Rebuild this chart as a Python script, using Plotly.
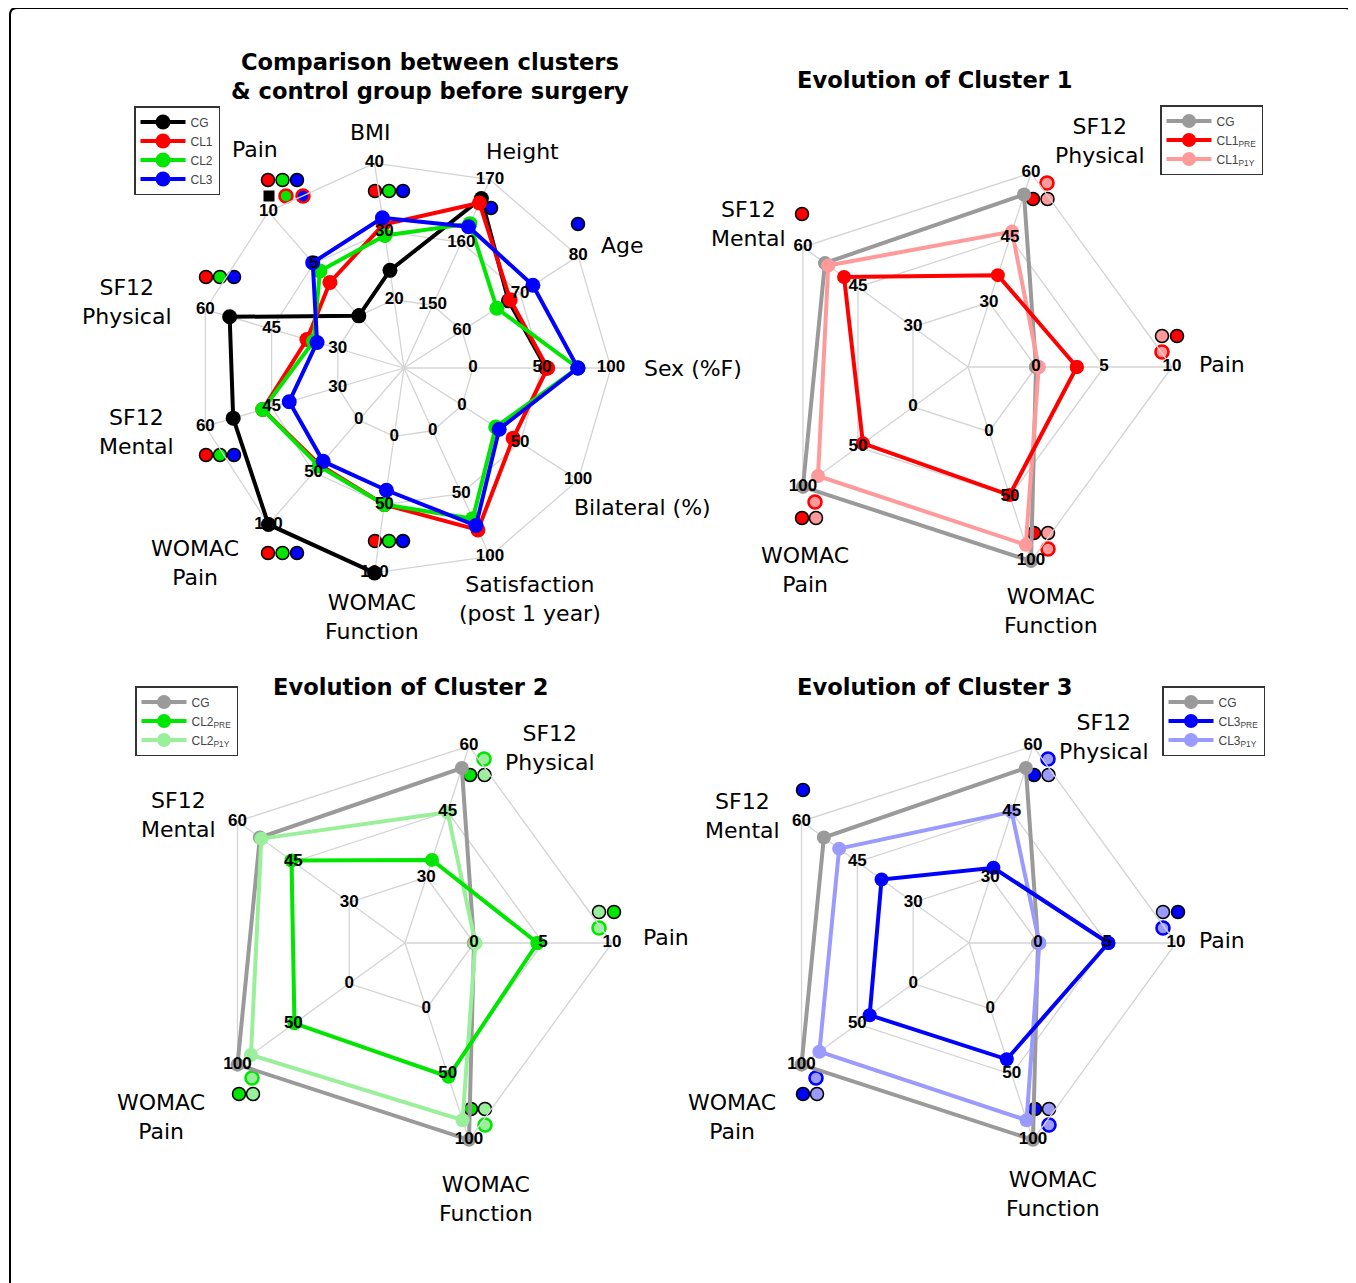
import plotly.graph_objects as go

# page body has an 8px margin: figure occupies the window from (8, 8)
OFF = 8
W, H = 1348, 1275

# ---------------- DATA ----------------
# Chart 1: comparison between clusters & control group (before surgery)
comp_axes = ["Sex (%F)", "Age", "Height", "BMI", "Pain", "SF12 Physical", "SF12 Mental",
             "WOMAC Pain", "WOMAC Function", "Satisfaction (post 1 year)", "Bilateral (%)"]
comp_axis_text = ["Sex (%F)", "Age", "Height", "BMI", "Pain", "SF12<br>Physical", "SF12<br>Mental",
                  "WOMAC<br>Pain", "WOMAC<br>Function", "Satisfaction<br>(post 1 year)", "Bilateral (%)"]
comp_ticks = [[0, 50, 100], [60, 70, 80], [150, 160, 170], [20, 30, 40], [0, 5, 10], [30, 45, 60],
              [30, 45, 60], [0, 50, 100], [0, 50, 100], [0, 50, 100], [0, 50, 100]]
comp_CG = [53, 68, 167, 24.3, 0, 54.5, 53.7, 100, 100, None, None]
comp_CL1 = [54, 68.3, 166.3, 31, 3.2, 37, 47, 43, 50, 79, 44]
comp_CL2 = [76, 66, 163, 29.4, 4.3, 35.5, 47, 44, 50, 70, 29]
comp_CL3 = [76, 72.2, 162.5, 32, 5.1, 34.7, 41, 39.5, 39.5, 75.5, 32]

# Charts 2-4: evolution of each cluster (pre-surgery vs 1 year post)
evo_axes = ["Pain", "SF12 Physical", "SF12 Mental", "WOMAC Pain", "WOMAC Function"]
evo_axis_text = ["Pain", "SF12<br>Physical", "SF12<br>Mental", "WOMAC<br>Pain", "WOMAC<br>Function"]
evo_ticks = [[0, 5, 10], [30, 45, 60], [30, 45, 60], [0, 50, 100], [0, 50, 100]]
evo_CG = [0, 55, 54, 100, 100]
CL1_pre = [3.0, 36.3, 48.8, 45.5, 49]
CL1_p1y = [0.2, 46.4, 53.1, 86.3, 87.5]
CL2_pre = [4.6, 34, 45.5, 49, 52]
CL2_p1y = [0.1, 44.9, 53.6, 88, 85]
CL3_pre = [5.1, 32.2, 38.5, 39, 38.6]
CL3_p1y = [0.1, 45, 49.9, 84, 85]

# significance glyph codes
comp_sig = [("Pain", 1, ["R", "G", "B"]), ("Pain", 2, ["K", "Gr", "Br"]), ("BMI", 1, ["R", "G", "B"]),
            ("Height", 1, ["B"]), ("Age", 1, ["B"]), ("SF12 Physical", 1, ["R", "G", "B"]),
            ("SF12 Mental", 1, ["R", "G", "B"]), ("WOMAC Pain", 1, ["R", "G", "B"]),
            ("WOMAC Function", 1, ["R", "G", "B"])]
sig_CL1 = [("SF12 Physical", 1, ["O"]), ("SF12 Physical", 2, ["P", "Y"]), ("SF12 Mental", 1, ["P"]),
           ("Pain", 1, ["Y", "P"]), ("Pain", 2, ["O"]), ("WOMAC Pain", 1, ["O"]), ("WOMAC Pain", 2, ["P", "Y"]),
           ("WOMAC Function", 1, ["P", "Y"]), ("WOMAC Function", 2, ["O"])]
sig_CL2 = [s for s in sig_CL1 if s[0] != "SF12 Mental"]
sig_CL3 = list(sig_CL1)

# ---------------- STYLE / LAYOUT ----------------
RED, GREEN, BLUE, BLACK, GRAY = "#ff0000", "#00e600", "#0000ff", "#000000", "#9a9a9a"
PINK, LGREEN, LBLUE = "#ff9a9a", "#9af09a", "#9a9aff"
GRID = "#d4d4d4"
RMAX = 3.3
LABEL_FONT = dict(family="DejaVu Sans", size=22, color="black")
TITLE_FONT = dict(family="DejaVu Sans", size=22.6, color="black")
TICK_FONT = dict(family="Liberation Sans", size=17, color="black", weight="bold")

comp_sig_pos = {("Pain", 1): (268, 180, 14.5), ("Pain", 2): (269, 196, 17), ("BMI", 1): (375, 191, 14),
                ("Height", 1): (491, 208, 0), ("Age", 1): (578, 224, 0), ("SF12 Physical", 1): (206, 277, 14),
                ("SF12 Mental", 1): (206, 455, 14), ("WOMAC Pain", 1): (268, 553, 14.5),
                ("WOMAC Function", 1): (375, 541, 14)}
evo_sig_off = {("SF12 Physical", 1): (79, -184, 0), ("SF12 Physical", 2): (65, -168, 14.5),
               ("SF12 Mental", 1): (-166, -153, 0), ("Pain", 1): (194, -31, 15), ("Pain", 2): (194, -15, 0),
               ("WOMAC Pain", 1): (-153, 135, 0), ("WOMAC Pain", 2): (-166, 151, 14),
               ("WOMAC Function", 1): (66, 166, 14), ("WOMAC Function", 2): (80, 182, 0)}

charts = [
    dict(pid="polar", center=(404, 368), d=69, axes=comp_axes, text=comp_axis_text, ticks=comp_ticks,
         legend="legend", lw=4, ms=15,
         series=[("CG", comp_CG, BLACK), ("CL1", comp_CL1, RED), ("CL2", comp_CL2, GREEN), ("CL3", comp_CL3, BLUE)],
         legend_order=[1, 2, 3, 4],
         label_pos=[(693, 368), (622, 246), (522, 152), (370, 133), (255, 150), (127, 302), (136, 432),
                    (195, 563), (372, 617), (530, 599), (642, 508)],
         title=("Comparison between clusters<br>&amp; control group before surgery", 430, 77)),
    dict(pid="polar2", center=(968, 367), d=68, axes=evo_axes, text=evo_axis_text, ticks=evo_ticks,
         legend="legend2", lw=4, ms=14, pre=RED, p1y=PINK, sig=sig_CL1,
         series=[("CG", evo_CG, GRAY), ("CL1<sub>P1Y</sub>", CL1_p1y, PINK), ("CL1<sub>PRE</sub>", CL1_pre, RED)],
         legend_order=[1, 3, 2],
         label_pos=[(1222, 364), (1100, 141), (748, 224), (805, 570), (1051, 611)],
         title=("Evolution of Cluster 1", 934, 80)),
    dict(pid="polar3", center=(405, 943), d=69, axes=evo_axes, text=evo_axis_text, ticks=evo_ticks,
         legend="legend3", lw=4, ms=14, pre=GREEN, p1y=LGREEN, sig=sig_CL2,
         series=[("CG", evo_CG, GRAY), ("CL2<sub>P1Y</sub>", CL2_p1y, LGREEN), ("CL2<sub>PRE</sub>", CL2_pre, GREEN)],
         legend_order=[1, 3, 2],
         label_pos=[(666, 937), (550, 748), (178, 815), (161, 1117), (486, 1199)],
         title=("Evolution of Cluster 2", 410, 687)),
    dict(pid="polar4", center=(969, 943), d=69, axes=evo_axes, text=evo_axis_text, ticks=evo_ticks,
         legend="legend4", lw=4, ms=14, pre=BLUE, p1y=LBLUE, sig=sig_CL3,
         series=[("CG", evo_CG, GRAY), ("CL3<sub>P1Y</sub>", CL3_p1y, LBLUE), ("CL3<sub>PRE</sub>", CL3_pre, BLUE)],
         legend_order=[1, 3, 2],
         label_pos=[(1222, 940), (1104, 737), (742, 816), (732, 1117), (1053, 1194)],
         title=("Evolution of Cluster 3", 934, 687)),
]
legend_boxes = {"legend": (134, 106), "legend2": (1160, 105), "legend3": (135, 686), "legend4": (1162, 686)}


def norm(v, ticks):
    if v is None:
        return None
    lo, hi = ticks[0], ticks[-1]
    return 1 + 2 * (v - lo) / (hi - lo)


def px(x):
    return (x - OFF) / W


def py(y):
    return 1 - (y - OFF) / H


fig = go.Figure()
annotations = []
layout_polars = {}

for ch in charts:
    pid = ch["pid"]
    N = len(ch["axes"])
    ang = [i * 360 / N for i in range(N)]
    # grid rings
    for k in (1, 2, 3):
        fig.add_trace(go.Scatterpolar(r=[k] * (N + 1), theta=ang + [ang[0]], mode="lines",
                                      line=dict(color=GRID, width=1.3), subplot=pid,
                                      showlegend=False, hoverinfo="skip"))
    rs, ts = [], []
    for a in ang:
        rs += [0, 3, None]
        ts += [a, a, None]
    fig.add_trace(go.Scatterpolar(r=rs, theta=ts, mode="lines", line=dict(color=GRID, width=1.3),
                                  subplot=pid, showlegend=False, hoverinfo="skip"))
    # data series
    for (name, vals, col), rank in zip(ch["series"], ch["legend_order"]):
        r = [norm(v, t) for v, t in zip(vals, ch["ticks"])]
        fig.add_trace(go.Scatterpolar(r=r + [r[0]], theta=ang + [ang[0]], mode="lines+markers", name=name,
                                      line=dict(color=col, width=ch["lw"]),
                                      marker=dict(size=ch["ms"], color=col),
                                      connectgaps=False, cliponaxis=False, subplot=pid,
                                      legend=ch["legend"], legendrank=rank))
    # tick labels (drawn on top)
    tr, tt, tx = [], [], []
    for a, tk in zip(ang, ch["ticks"]):
        for k, v in enumerate(tk):
            tr.append(k + 1)
            tt.append(a)
            tx.append(str(v))
    fig.add_trace(go.Scatterpolar(r=tr, theta=tt, text=tx, mode="text", textfont=TICK_FONT,
                                  textposition="middle center", cliponaxis=False, subplot=pid,
                                  showlegend=False, hoverinfo="skip"))
    cx, cy = ch["center"]
    R = RMAX * ch["d"]
    layout_polars[pid] = dict(
        domain=dict(x=[px(cx - R), px(cx + R)], y=[py(cy + R), py(cy - R)]),
        bgcolor="rgba(0,0,0,0)",
        radialaxis=dict(visible=False, range=[0, RMAX]),
        angularaxis=dict(visible=False, type="linear", thetaunit="degrees", rotation=0,
                         direction="counterclockwise"))
    # axis labels
    for txt, (lx, ly) in zip(ch["text"], ch["label_pos"]):
        annotations.append(dict(text=txt, x=px(lx), y=py(ly), xref="paper", yref="paper",
                                showarrow=False, font=LABEL_FONT, xanchor="center", yanchor="middle"))
    t, tx_, ty_ = ch["title"]
    annotations.append(dict(text="<b>" + t + "</b>", x=px(tx_), y=py(ty_), xref="paper", yref="paper",
                            showarrow=False, font=TITLE_FONT, xanchor="center", yanchor="middle"))

# ---------------- significance glyphs (cartesian overlay in page-pixel units) ----------------
glyphs = {}  # style key -> (xs, ys, marker)


def add_glyph(key, x, y, marker):
    if key not in glyphs:
        glyphs[key] = ([], [], marker)
    glyphs[key][0].append(x)
    glyphs[key][1].append(y)


def filled(c):
    return dict(size=13, color=c, line=dict(color="black", width=1.5))


def ring(fill, edge):
    return dict(size=13, color=fill, line=dict(color=edge, width=2.6))


comp_styles = {"R": filled(RED), "G": filled(GREEN), "B": filled(BLUE),
               "K": dict(size=11, color="black", symbol="square", line=dict(width=0)),
               "Gr": ring(GREEN, RED), "Br": ring(BLUE, RED)}
for axis, row, codes in comp_sig:
    x0, y0, dx = comp_sig_pos[(axis, row)]
    for i, c in enumerate(codes):
        add_glyph("c" + c, x0 + i * dx, y0, comp_styles[c])

for ci, ch in enumerate(charts[1:], start=1):
    cx, cy = ch["center"]
    st = {"P": filled(ch["pre"]), "Y": filled(ch["p1y"]), "O": ring(ch["p1y"], ch["pre"])}
    for axis, row, codes in ch["sig"]:
        ox, oy, dx = evo_sig_off[(axis, row)]
        for i, c in enumerate(codes):
            add_glyph(f"e{ci}{c}", cx + ox + i * dx, cy + oy, st[c])

for key, (xs, ys, mk) in glyphs.items():
    fig.add_trace(go.Scatter(x=xs, y=ys, mode="markers", marker=mk, xaxis="x", yaxis="y",
                             showlegend=False, hoverinfo="skip", cliponaxis=False))

# ---------------- frame ----------------
x0, x1, yt, yb = px(10), px(1352), py(8), -0.05
rx, ry = 7 / W, 7 / H
frame_path = (f"M {x0 + rx},{yt} L {x1 - rx},{yt} Q {x1},{yt} {x1},{yt - ry} L {x1},{yb} "
              f"L {x0},{yb} L {x0},{yt - ry} Q {x0},{yt} {x0 + rx},{yt} Z")

legend_common = dict(xanchor="left", yanchor="top", bgcolor="white", bordercolor="#333333",
                     borderwidth=1.5, font=dict(family="Liberation Sans", size=12, color="#444444"),
                     tracegroupgap=0, itemwidth=45)
legends = {}
for name, (lx, ly) in legend_boxes.items():
    legends[name] = dict(x=px(lx), y=py(ly), **legend_common)

fig.update_layout(
    width=W, height=H, autosize=False, margin=dict(l=0, r=0, t=0, b=0),
    paper_bgcolor="white", plot_bgcolor="rgba(0,0,0,0)",
    xaxis=dict(range=[OFF, OFF + W], visible=False, domain=[0, 1], fixedrange=True),
    yaxis=dict(range=[OFF + H, OFF], visible=False, domain=[0, 1], fixedrange=True),
    annotations=annotations,
    shapes=[dict(type="path", path=frame_path, xref="paper", yref="paper",
                 line=dict(color="black", width=2), fillcolor="rgba(0,0,0,0)")],
    **layout_polars, **legends,
)

fig.write_html("out.html")
